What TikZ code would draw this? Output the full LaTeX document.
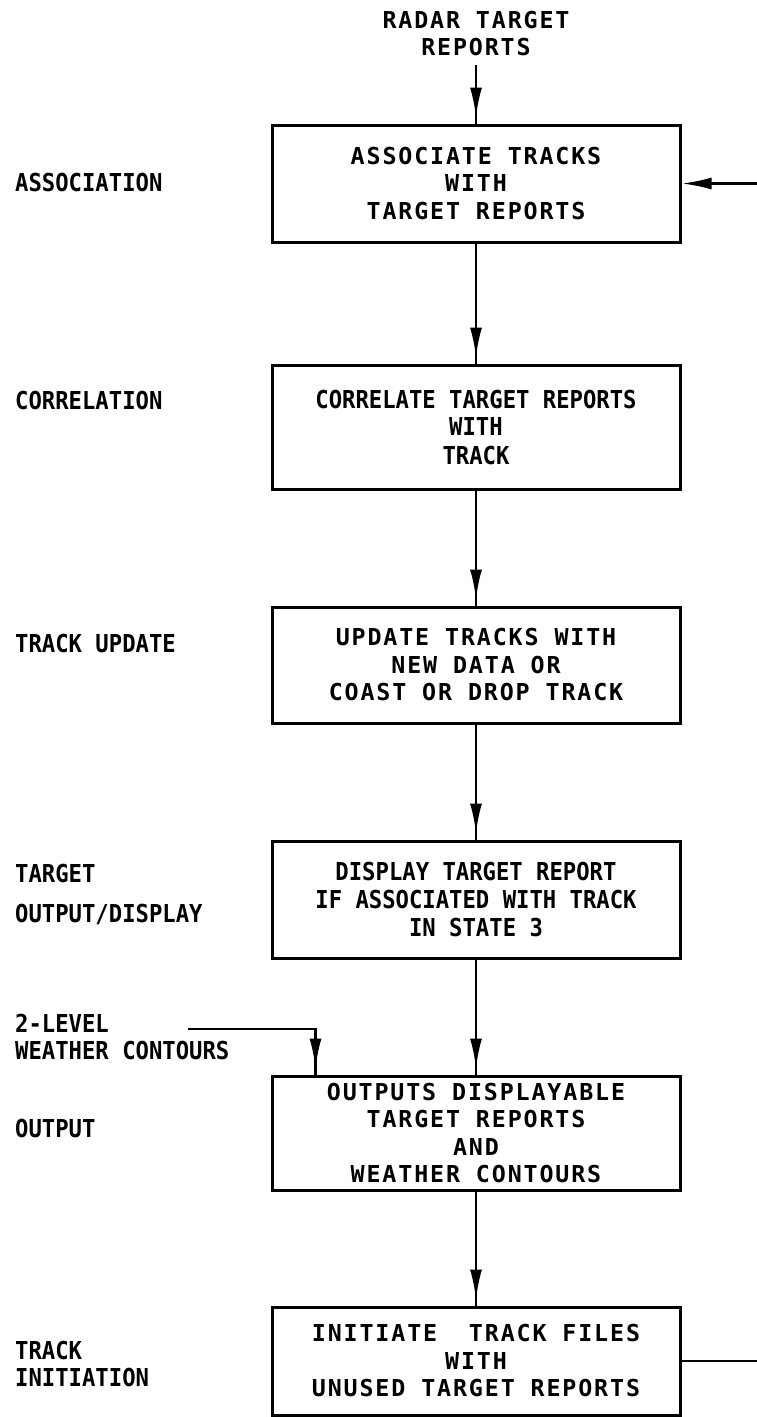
\documentclass[tikz,border=0pt]{standalone}
\usepackage{fontspec}
\newfontfamily\narrowfont[FakeStretch=0.9]{DejaVu Sans Mono}
\newfontfamily\widefont[LetterSpace=8]{DejaVu Sans Mono}
\usetikzlibrary{arrows.meta,decorations.markings}
\begin{document}
\begin{tikzpicture}[x=1pt,y=-1pt,
  box/.style={draw, line width=3pt, minimum width=408pt, inner sep=0pt, align=center},
  wide/.style={font=\widefont\bfseries\fontsize{23.3}{27.5}\selectfont},
  narrow/.style={font=\narrowfont\bfseries\fontsize{24.7}{28}\selectfont},
  lab/.style={narrow, anchor=base west, inner sep=0pt},
  flow/.style={line width=2.6pt, postaction=decorate,
    decoration={markings, mark=at position -6pt with {\arrow{Latex[length=30pt,width=12pt]}}}},
  tipflow/.style={line width=2.6pt, -{Latex[length=30pt,width=12pt]}},
  plain/.style={line width=2.6pt}]
\useasboundingbox (0,0) rectangle (757,1417);
% boxes
\node[box, wide, minimum height=117pt] (b1) at (476,183.5) {ASSOCIATE TRACKS\\WITH\\TARGET REPORTS};
\node[box, narrow, minimum height=124pt] (b2) at (476,427) {CORRELATE TARGET REPORTS\\WITH\\TRACK};
\node[box, wide, minimum height=116pt] (b3) at (476,665) {UPDATE TRACKS WITH\\NEW DATA OR\\COAST OR DROP TRACK};
\node[box, narrow, minimum height=117pt] (b4) at (476,899.5) {DISPLAY TARGET REPORT\\IF ASSOCIATED WITH TRACK\\IN STATE 3};
\node[box, wide, minimum height=114pt] (b5) at (476,1133) {OUTPUTS DISPLAYABLE\\TARGET REPORTS\\AND\\WEATHER CONTOURS};
\node[box, wide, minimum height=108pt] (b6) at (476,1361) {INITIATE\ \ TRACK FILES\\WITH\\UNUSED TARGET REPORTS};
% source text
\node[wide, align=center, inner sep=0pt] (src) at (476,33.5) {RADAR TARGET\\REPORTS};
% left labels
\node[lab] (l1) at (15,191) {ASSOCIATION};
\node[lab] (l2) at (15,409) {CORRELATION};
\node[lab] (l3) at (15,652) {TRACK UPDATE};
\node[lab] (l4a) at (15,882) {TARGET};
\node[lab] (l4b) at (15,922) {OUTPUT/DISPLAY};
\node[lab] (w1) at (15,1032) {2-LEVEL};
\node[lab] (w2) at (15,1059) {WEATHER CONTOURS};
\node[lab] (l5) at (15,1137) {OUTPUT};
\node[lab] (l6a) at (15,1359) {TRACK};
\node[lab] (l6b) at (15,1386) {INITIATION};
% connectors
\draw[flow, shorten <=9pt] (src) -- (b1);
\draw[flow] (b1) -- (b2);
\draw[flow] (b2) -- (b3);
\draw[flow] (b3) -- (b4);
\draw[flow] (b4) -- (b5);
\draw[flow] (b5) -- (b6);
\coordinate (wc) at (188,1029);
\draw[flow] (wc) -| ([xshift=45pt]b5.north west);
\coordinate (r1) at (757,183.5);
\draw[tipflow] (r1) -- (b1.east);
\coordinate (r6) at (757,1361);
\draw[plain] (b6.east) -- (r6);
\end{tikzpicture}
\end{document}
